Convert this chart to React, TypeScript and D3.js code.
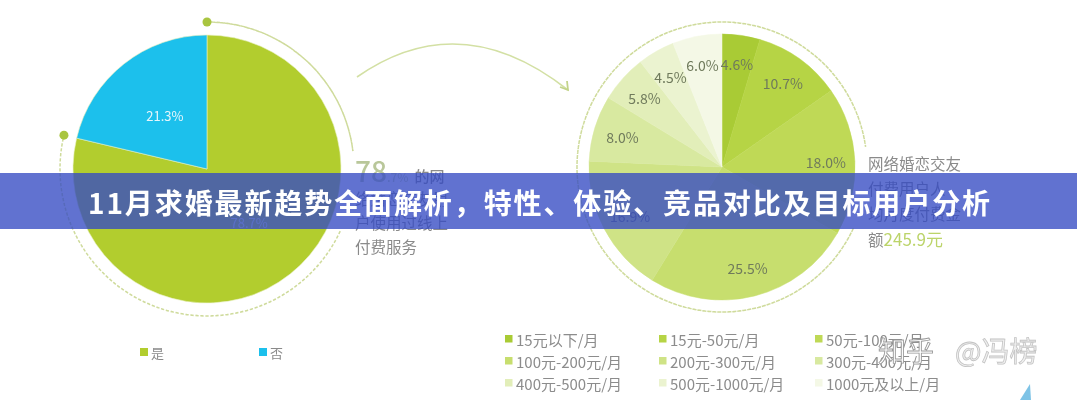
import React from "react";
import * as d3 from "d3";

const titleText = "11月求婚最新趋势全面解析，特性、体验、竞品对比及目标用户分析";

const leftCategories = ["是", "否"];
const leftValues = [78.7, 21.3];
const leftColors = ["#b2cd2e", "#1fc0ec"];

const rightCategories = [
  "15元以下/月", "15元-50元/月", "50元-100元/月",
  "100元-200元/月", "200元-300元/月", "300元-400元/月",
  "400元-500元/月", "500元-1000元/月", "1000元及以上/月",
];
const rightValues = [4.6, 10.7, 18.0, 25.5, 16.9, 8.0, 5.8, 4.5, 6.0];
const rightColors = [
  "#a9cb35", "#b6d444", "#bfd957", "#c7de6e", "#cfe386",
  "#d8e9a0", "#e2eeb9", "#ebf3d0", "#f4f8e6",
];

const leftNoteLines = ["络婚恋交友用", "户使用过线上", "付费服务"];
const rightNoteLines = ["网络婚恋交友", "付费用户人", "均月度付费金"];

const FONT = "'Noto Sans CJK SC', 'Noto Sans', sans-serif";

export default function App() {
  const pie = d3.pie<number>().sort(null).value((d) => d);
  const deg = Math.PI / 180;

  // left pie
  const lcx = 207, lcy = 169, lr = 134;
  const lArcs = pie(leftValues);
  const lArc = d3.arc<d3.PieArcDatum<number>>().innerRadius(0).outerRadius(lr);
  const lLabel = d3.arc<d3.PieArcDatum<number>>().innerRadius(68).outerRadius(68);
  const lRing = d3.arc<any>().innerRadius(147).outerRadius(147);

  // right pie
  const rcx = 722, rcy = 167, rr = 133;
  const rArcs = pie(rightValues);
  const rArc = d3.arc<d3.PieArcDatum<number>>().innerRadius(0).outerRadius(rr);
  const rLabel = d3.arc<d3.PieArcDatum<number>>().innerRadius(104).outerRadius(104);
  const rRing = d3.arc<any>().innerRadius(145).outerRadius(145);

  const lBoundary = lArcs[0].endAngle;
  const dotPos = (a: number, r: number) => [Math.sin(a) * r, -Math.cos(a) * r];

  const arrowEnd = [568, 90];

  return (
    <svg
      width={1077}
      height={400}
      style={{ position: "fixed", left: 0, top: 0, background: "#fff" }}
      fontFamily={FONT}
    >
      <defs>
        <filter id="soft" x="-5%" y="-5%" width="110%" height="110%">
          <feGaussianBlur stdDeviation="0.6" />
        </filter>
      </defs>
      <rect width={1077} height={400} fill="#fff" />
      <g filter="url(#soft)">
        {/* Left pie */}
        <g transform={`translate(${lcx},${lcy})`}>
          {lArcs.map((a, i) => (
            <path key={i} d={lArc(a) || ""} fill={leftColors[i]} stroke="#e8f0c0" strokeWidth={0.6} />
          ))}
          {lArcs.map((a, i) => {
            const [x, y] = lLabel.centroid(a);
            return (
              <text key={i} x={x} y={y} textAnchor="middle" dominantBaseline="central"
                fontSize={13} fill="#e6f6fb" opacity={i === 0 ? 0.8 : 1}>
                {leftValues[i].toFixed(1)}%
              </text>
            );
          })}
          <path d={lRing({ startAngle: 0, endAngle: 83 * deg }) || ""} fill="none"
            stroke="#cfdb9c" strokeWidth={1.5} strokeDasharray="3,2" />
          <path d={lRing({ startAngle: 115 * deg, endAngle: lBoundary }) || ""} fill="none"
            stroke="#cfdb9c" strokeWidth={1.5} strokeDasharray="3,2" />
          {[0, lBoundary].map((a, i) => {
            const [x, y] = dotPos(a, 147);
            return <circle key={i} cx={x} cy={y} r={4.5} fill="#a9c53f" />;
          })}
        </g>
        {/* left note */}
        <text x={355} y={182} fontSize={28} fill="#b9c79a" fontWeight={500}>
          78
          <tspan fontSize={12} fill="#cbd6a9">.7%</tspan>
          <tspan fontSize={15} fill="#8a8a8a" dx={6}>的网</tspan>
        </text>
        {leftNoteLines.map((t, i) => (
          <text key={i} x={355} y={205 + i * 24} fontSize={15.5} fill="#8a8a8a">{t}</text>
        ))}

        {/* curved arrow */}
        <path d={`M357,77 Q460,5 ${arrowEnd[0]},${arrowEnd[1]}`} fill="none" stroke="#d3e0a4" strokeWidth={1.6} />
        <path d={`M${arrowEnd[0] - 8},${arrowEnd[1] - 3} L${arrowEnd[0]},${arrowEnd[1]} L${arrowEnd[0] - 1},${arrowEnd[1] - 9}`}
          fill="none" stroke="#c3d48a" strokeWidth={1.8} />

        {/* Right pie */}
        <g transform={`translate(${rcx},${rcy})`}>
          {rArcs.map((a, i) => (
            <path key={i} d={rArc(a) || ""} fill={rightColors[i]} stroke={rightColors[i]} strokeWidth={0.5} />
          ))}
          {rArcs.map((a, i) => {
            const [x, y] = rLabel.centroid(a);
            return (
              <text key={i} x={x} y={y} textAnchor="middle" dominantBaseline="central"
                fontSize={14} fill="#6f7a5c">
                {rightValues[i].toFixed(1)}%
              </text>
            );
          })}
          <path d={rRing({ startAngle: 115 * deg, endAngle: (360 + 82) * deg }) || ""} fill="none"
            stroke="#cfdb9c" strokeWidth={1.5} strokeDasharray="3,2" />
        </g>
        {/* right note */}
        {rightNoteLines.map((t, i) => (
          <text key={i} x={868} y={170 + i * 25} fontSize={15.5} fill="#8a8a8a">{t}</text>
        ))}
        <text x={868} y={246} fontSize={15.5} fill="#8a8a8a">
          额<tspan fontSize={17} fill="#bcd46a">245.9元</tspan>
        </text>

        {/* Left legend */}
        {leftCategories.map((c, i) => (
          <g key={c} transform={`translate(${i === 0 ? 140 : 259},352)`}>
            <rect x={0} y={-4} width={8} height={8} fill={leftColors[i]} />
            <text x={11} y={0} dominantBaseline="central" fontSize={13} fill="#8a8a8a">{c}</text>
          </g>
        ))}

        {/* Right legend */}
        {rightCategories.map((c, i) => {
          const col = i % 3, row = Math.floor(i / 3);
          const x = [505, 659, 815][col];
          const y = 339 + row * 22;
          return (
            <g key={c} transform={`translate(${x},${y})`}>
              <rect x={0} y={-4} width={7.5} height={7.5} fill={rightColors[i]} />
              <text x={11} y={0} dominantBaseline="central" fontSize={15} fill="#8c8c8c">{c}</text>
            </g>
          );
        })}

        {/* watermark */}
        <text x={878} y={362} fontSize={28} fill="#ffffff" stroke="#9a9a9a" strokeWidth={0.9}>知乎</text>
        <text x={955} y={362} fontSize={28} fill="#f0f0f0" stroke="#c4c4c4" strokeWidth={0.8}>@冯榜</text>
        <path d="M1020,400 L1030,384 L1031,400 Z" fill="#5fb4e0" opacity={0.8} />
      </g>

      {/* Banner */}
      <rect x={0} y={173} width={1077} height={56} fill="rgb(52,74,195)" opacity={0.78} />
      <text x={540} y={202} textAnchor="middle" dominantBaseline="central" fontSize={28}
        fontWeight={700} fill="#ffffff" letterSpacing={1.9}>
        {titleText}
      </text>
    </svg>
  );
}
